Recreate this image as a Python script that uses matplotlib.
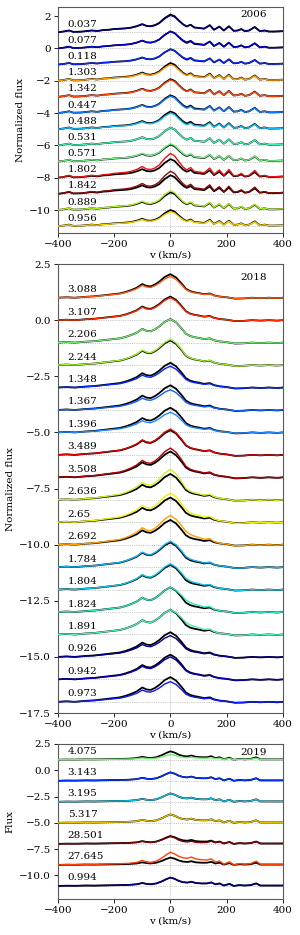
import numpy as np
import matplotlib
matplotlib.use("Agg")
import matplotlib.pyplot as plt

plt.rcParams["font.family"] = ["DejaVu Serif"]
plt.rcParams["font.size"] = 7

# ---------------------------------------------------------------- line shapes (peak = 1)
v06 = [-400, -380, -360, -345, -320, -300, -280, -260, -240, -220, -200, -180, -160, -140, -120, -100, -85, -70,
       -55, -40, -20, 0, 15, 30, 45, 58, 72, 85, 100, 120, 140, 155, 174, 190, 208, 225, 240, 252, 265, 280, 300,
       318, 335, 350, 370, 400]
p06 = [0.0, 0.04, 0.1, 0.02, 0.03, 0.06, 0.1, 0.07, 0.12, 0.14, 0.18, 0.2, 0.22, 0.26, 0.34, 0.46, 0.36, 0.34,
       0.4, 0.52, 0.8, 1.0, 0.9, 0.66, 0.44, 0.32, 0.42, 0.26, 0.24, 0.2, 0.4, 0.14, 0.32, 0.1, 0.34, 0.08, 0.1,
       0.18, 0.06, 0.1, 0.3, 0.06, 0.1, 0.04, 0.04, 0.06]
w06 = [0, 0, 0, 0, 0, 0, 0, 0, 0, 0, 0, 0, 0, 0, 0, 0, 0, 0,
       0, 0, 0, 0, 0.02, 0.1, 0.2, 0.25, 0.2, 0.2, 0.15, 0.1, 0.05, 0.02, 0, 0, 0, 0, 0,
       0, 0, 0, 0, 0, 0, 0, 0, 0]

v18 = [-400, -370, -340, -300, -270, -240, -210, -180, -160, -140, -120, -100, -85, -70, -55, -40, -20, 0, 20, 40,
       55, 70, 85, 100, 120, 140, 155, 175, 200, 230, 260, 290, 320, 350, 380, 400]
p18 = [0.0, 0.02, 0.0, 0.04, 0.06, 0.1, 0.14, 0.18, 0.24, 0.32, 0.42, 0.58, 0.5, 0.48, 0.56, 0.68, 0.88, 1.0, 0.86,
       0.6, 0.38, 0.28, 0.23, 0.2, 0.15, 0.18, 0.1, 0.05, 0.02, -0.04, -0.03, 0.0, -0.02, 0.0, -0.02, 0.0]
w18 = [0, 0, 0, 0, 0, 0, 0, 0, 0, 0, 0, 0, 0, 0, 0, 0, 0, 0, 0.02,
       0.08, 0.12, 0.12, 0.1, 0.08, 0.06, 0.04, 0.02, 0, 0, 0, 0, 0, 0, 0, 0, 0]

v19 = [-400, -370, -340, -300, -270, -240, -210, -180, -150, -120, -100, -85, -70, -50, -30, -15, 0, 15, 30, 45,
       60, 75, 90, 110, 130, 145, 160, 175, 190, 210, 225, 245, 265, 285, 305, 320, 345, 370, 400]
p19 = [0.0, 0.03, 0.02, 0.05, 0.04, 0.06, 0.08, 0.1, 0.12, 0.2, 0.35, 0.25, 0.2, 0.3, 0.55, 0.8, 1.0, 0.85, 0.6,
       0.45, 0.4, 0.5, 0.35, 0.3, 0.3, 0.42, 0.2, 0.3, 0.05, 0.25, 0.0, 0.1, 0.05, 0.1, 0.3, 0.05, 0.05, 0.05, 0.05]
w19 = [0, 0, 0, 0, 0, 0, 0, 0, 0, 0, 0, 0, 0, 0, 0, 0, 0, 0.05, 0.15,
       0.22, 0.25, 0.25, 0.25, 0.22, 0.18, 0.12, 0.06, 0.02, 0, 0, 0, 0, 0, 0, 0, 0, 0, 0, 0]

# ---------------------------------------------------------------- 2006
lab06 = ["0.037", "0.077", "0.118", "1.303", "1.342", "0.447", "0.488", "0.531", "0.571", "1.802", "1.842",
         "0.889", "0.956"]
base06 = [1, 0, -1, -2, -3, -4, -5, -6, -7, -8, -9, -10, -11]
mod06 = [1.1, 1.05, 0.95, 1.1, 1.1, 1.1, 1.1, 1.1, 1.05, 1.15, 1.15, 1.1, 1.0]
obs06 = [1.05, 1.05, 0.95, 1.0, 1.05, 1.05, 1.0, 1.1, 1.1, 1.5, 1.4, 1.2, 0.9]
wing06 = [0.15, 0.2, 0.15, 0.0, 0.0, -0.15, -0.2, 0.0, 0.05, 0.0, 0.05, 0.0, 0.0]
col06 = ["#00007a", "#0000d8", "#0a28ff", "#ff9a00", "#ff4a0a", "#1078ff", "#10b8f8", "#40f0b0", "#70f080",
         "#f01010", "#8a0a0a", "#b0f020", "#f0d000"]

# ---------------------------------------------------------------- 2018
lab18 = ["3.088", "3.107", "2.206", "2.244", "1.348", "1.367", "1.396", "3.489", "3.508", "2.636", "2.65",
         "2.692", "1.784", "1.804", "1.824", "1.891", "0.926", "0.942", "0.973"]
base18 = [1, 0, -1, -2, -3, -4, -5, -6, -7, -8, -9, -10, -11, -12, -13, -14, -15, -16, -17]
mod18 = [1.05, 1.05, 1.05, 1.1, 1.1, 1.1, 1.1, 1.1, 1.15, 1.15, 1.1, 1.1, 1.1, 1.1, 1.1, 1.1, 1.1, 1.1, 1.1]
obs18 = [0.95, 1.0, 1.05, 1.15, 0.95, 0.9, 0.9, 1.15, 1.3, 1.35, 1.3, 1.3, 1.15, 1.15, 1.1, 1.1, 0.95, 1.0, 0.9]
wing18 = [0.0, 0.0, 0.0, 0.0, 0.0, 0.0, 0.0, 0.0, 0.0, 0.0, 0.5, 0.8, 0.3, 0.5, 1.0, 1.0, 0.0, 0.0, 0.0]
col18 = ["#ff5a14", "#ff2a00", "#70e870", "#a0f030", "#0028ff", "#1060ff", "#2088ff", "#e00000", "#b00000",
         "#d0f020", "#f0f000", "#ffa000", "#10b0f0", "#10c8e8", "#30e8c0", "#50f0b0", "#000090", "#0000c8",
         "#0a1aff"]

# ---------------------------------------------------------------- 2019
lab19 = ["4.075", "3.143", "3.195", "5.317", "28.501", "27.645", "0.994"]
base19 = [1, -1, -3, -5, -7, -9, -11]
mod19 = [0.8, 0.8, 0.8, 0.8, 0.75, 0.7, 0.8]
obs19 = [0.5, 0.8, 0.8, 0.8, 0.7, 1.2, 0.8]
wing19 = [0.0, 0.0, 0.0, 0.0, -0.4, 0.6, 0.0]
col19 = ["#70f070", "#0030ff", "#10c0e0", "#e0c000", "#800000", "#ff4000", "#000080"]

panels = [
    (v06, p06, w06, lab06, base06, mod06, obs06, wing06, col06, "2006", "Normalized flux",
     [0.193, 0.7508, 0.75, 0.2417], (-11.42, 2.56), np.arange(-10, 3, 2), "{:.0f}", 0.965),
    (v18, p18, w18, lab18, base18, mod18, obs18, wing18, col18, "2018", "Normalized flux",
     [0.193, 0.2374, 0.75, 0.4802], (-17.5, 2.5), np.arange(-17.5, 2.6, 2.5), "{:.1f}", 0.971),
    (v19, p19, w19, lab19, base19, mod19, obs19, wing19, col19, "2019", "Flux",
     [0.193, 0.0385, 0.75, 0.1658], (-12.24, 2.5), np.arange(-10, 2.6, 2.5), "{:.1f}", 0.948),
]

fig = plt.figure(figsize=(3.0, 9.35), dpi=100)
for (v, p, w, labs, bases, mods, obss, wings, cols, year, ylab, rect, ylim, yt, fmt, ypos) in panels:
    ax = fig.add_axes(rect)
    v = np.array(v); p = np.array(p); w = np.array(w)
    for lab, b, am, ao, aw, c in zip(labs, bases, mods, obss, wings, cols):
        ax.axhline(b, color="0.6", lw=0.5, ls=":", zorder=1)
        ax.plot(v, b + am * p, color="black", lw=1.3, zorder=2)
        ax.plot(v, b + ao * p + aw * w, color=c, lw=1.0, zorder=3)
        ax.annotate(lab, (-365, b), xytext=(0, 2.5), textcoords="offset points", ha="left", va="bottom",
                    fontsize=7.5)
    ax.axvline(0, color="0.6", lw=0.5, ls=":", zorder=1)
    ax.text(0.871, ypos, year, transform=ax.transAxes, ha="center", va="center", fontsize=7.5)
    ax.set_xlim(-400, 400); ax.set_ylim(*ylim)
    ax.set_xticks([-400, -200, 0, 200, 400])
    ax.set_yticks(yt); ax.set_yticklabels([fmt.format(t).replace("-", "\u2212") for t in yt])
    ax.tick_params(labelsize=7.5, length=3, width=0.6, pad=2)
    for s in ax.spines.values():
        s.set_linewidth(0.8); s.set_color("0.35")
    ax.set_xlabel("v (km/s)", fontsize=7.5, labelpad=1)
    ax.set_ylabel(ylab, fontsize=7.5, labelpad=3)

fig.savefig("out.png", dpi=100)
